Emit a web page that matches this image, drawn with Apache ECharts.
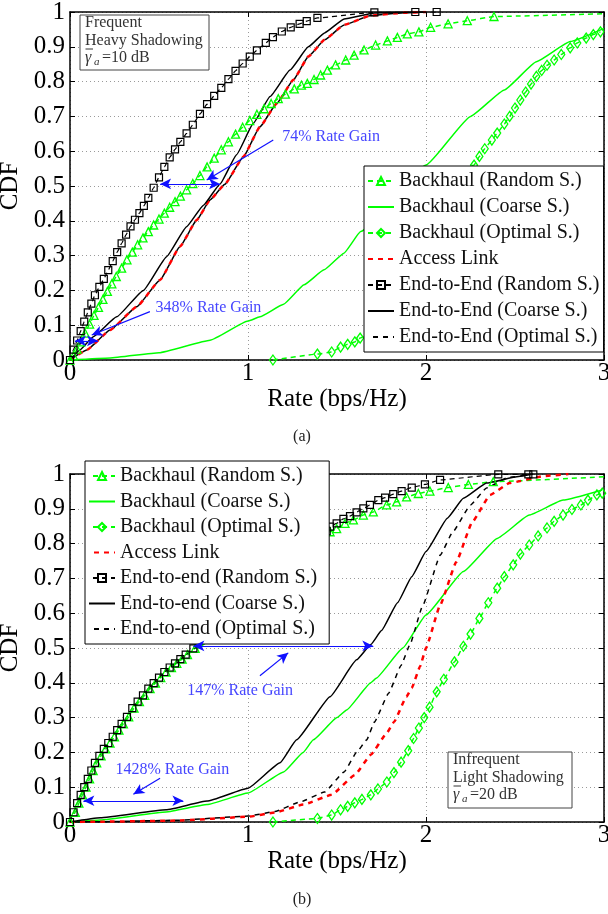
<!DOCTYPE html>
<html>
<head>
<meta charset="utf-8">
<script src="https://cdn.jsdelivr.net/npm/echarts/dist/echarts.min.js"></script>
</head>
<body style="margin:0">
<div id="container" style="width:608px;height:914px"></div>
<script>
// ---- data: [rate (bps/Hz), CDF] ----
// (a) frequent heavy shadowing
var a_bhRandom = [[0,0],[0.02,0.012],[0.04,0.031],[0.06,0.052],[0.085,0.077],[0.11,0.103],[0.135,0.128],[0.16,0.151],[0.185,0.174],[0.21,0.197],[0.235,0.219],[0.26,0.24],[0.29,0.264],[0.32,0.288],[0.35,0.31],[0.38,0.331],[0.41,0.351],[0.44,0.369],[0.47,0.388],[0.5,0.405],[0.53,0.422],[0.56,0.439],[0.59,0.455],[0.62,0.471],[0.655,0.489],[0.69,0.507],[0.73,0.53],[0.77,0.555],[0.81,0.58],[0.85,0.604],[0.89,0.627],[0.93,0.649],[0.97,0.669],[1.01,0.688],[1.05,0.706],[1.09,0.722],[1.13,0.737],[1.17,0.751],[1.21,0.764],[1.26,0.779],[1.30,0.79],[1.333,0.795],[1.371,0.806],[1.408,0.819],[1.446,0.833],[1.492,0.848],[1.549,0.862],[1.596,0.876],[1.652,0.891],[1.717,0.905],[1.783,0.917],[1.839,0.927],[1.895,0.937],[1.96,0.943],[2.026,0.956],[2.124,0.966],[2.232,0.975],[2.382,0.987],[3.0,0.995]];
var a_bhCoarse = [[0,0],[0.225,0.006],[0.5,0.021],[0.787,0.057],[1.0,0.112],[1.067,0.124],[1.2,0.16],[1.315,0.216],[1.427,0.259],[1.539,0.307],[1.633,0.369],[2.0,0.56],[2.25,0.70],[2.44,0.776],[2.62,0.857],[2.81,0.915],[3.0,0.953]];
var a_bhOptimal = [[1.14,0],[1.39,0.017],[1.47,0.023],[1.52,0.037],[1.56,0.045],[1.6,0.052],[1.63,0.063],[2.27,0.56],[2.30,0.585],[2.33,0.607],[2.37,0.632],[2.40,0.652],[2.44,0.678],[2.47,0.7],[2.50,0.724],[2.53,0.747],[2.56,0.77],[2.59,0.793],[2.62,0.815],[2.65,0.832],[2.68,0.847],[2.72,0.862],[2.76,0.878],[2.81,0.897],[2.85,0.911],[2.90,0.925],[2.94,0.935],[2.98,0.943]];
var a_access = [[0,0],[0.094,0.029],[0.225,0.086],[0.375,0.153],[0.506,0.23],[0.618,0.326],[0.712,0.402],[0.787,0.46],[0.87,0.505],[0.974,0.584],[1.067,0.67],[1.161,0.737],[1.255,0.805],[1.339,0.872],[1.43,0.92],[1.54,0.963],[1.69,0.99],[1.88,0.998],[2.0,1.0]];
var a_e2eRandom = [[0,0],[0.02,0.03],[0.04,0.056],[0.06,0.083],[0.08,0.11],[0.10,0.137],[0.12,0.162],[0.14,0.186],[0.165,0.21],[0.19,0.233],[0.215,0.258],[0.24,0.284],[0.265,0.31],[0.29,0.335],[0.315,0.36],[0.34,0.384],[0.365,0.403],[0.39,0.422],[0.415,0.443],[0.44,0.466],[0.47,0.495],[0.50,0.525],[0.53,0.555],[0.56,0.582],[0.59,0.605],[0.62,0.627],[0.655,0.651],[0.69,0.676],[0.73,0.707],[0.77,0.735],[0.81,0.759],[0.85,0.782],[0.89,0.807],[0.93,0.831],[0.97,0.852],[1.01,0.872],[1.05,0.89],[1.10,0.911],[1.14,0.928],[1.19,0.944],[1.24,0.956],[1.29,0.966],[1.33,0.974],[1.39,0.983],[1.71,0.999],[1.94,1.0],[2.06,1.0]];
var a_e2eCoarse = [[0,0],[0.056,0.029],[0.131,0.067],[0.262,0.124],[0.412,0.2],[0.543,0.297],[0.655,0.383],[0.75,0.445],[0.843,0.506],[0.936,0.59],[1.03,0.68],[1.124,0.757],[1.236,0.833],[1.339,0.9],[1.43,0.94],[1.54,0.98],[1.71,0.997],[2.0,1.0]];
var a_e2eOptimal = [[0,0],[0.094,0.029],[0.225,0.086],[0.375,0.153],[0.506,0.23],[0.618,0.326],[0.712,0.402],[0.787,0.46],[0.87,0.505],[0.974,0.584],[1.067,0.67],[1.161,0.737],[1.255,0.805],[1.339,0.872],[1.43,0.92],[1.54,0.963],[1.69,0.99],[1.88,0.998],[2.0,1.0]];

// (b) infrequent light shadowing
var b_bhRandom = [[0,0],[0.03,0.028],[0.05,0.054],[0.07,0.078],[0.09,0.1],[0.11,0.124],[0.13,0.148],[0.15,0.17],[0.175,0.19],[0.2,0.21],[0.225,0.227],[0.25,0.245],[0.275,0.264],[0.3,0.282],[0.33,0.302],[0.36,0.327],[0.39,0.346],[0.42,0.364],[0.45,0.383],[0.48,0.399],[0.51,0.415],[0.54,0.431],[0.57,0.444],[0.6,0.456],[0.63,0.468],[0.66,0.481],[0.703,0.499],[1.461,0.834],[1.498,0.843],[1.545,0.858],[1.592,0.868],[1.648,0.882],[1.704,0.891],[1.779,0.911],[1.835,0.92],[1.891,0.934],[1.957,0.944],[2.022,0.951],[2.125,0.961],[2.238,0.97],[2.378,0.978],[3.0,0.992]];
var b_bhCoarse = [[0,0],[0.17,0.006],[0.54,0.029],[0.77,0.05],[1.0,0.083],[1.2,0.144],[1.31,0.2],[1.367,0.236],[1.5,0.3],[1.554,0.322],[1.69,0.4],[1.72,0.413],[1.87,0.5],[2.0,0.595],[2.21,0.72],[2.4,0.815],[2.58,0.882],[2.77,0.925],[2.99,0.954]];
var b_bhOptimal = [[1.14,0],[1.39,0.01],[1.47,0.02],[1.52,0.035],[1.56,0.045],[1.60,0.055],[1.64,0.065],[1.69,0.078],[1.73,0.095],[1.78,0.115],[1.82,0.142],[1.86,0.172],[1.90,0.205],[1.93,0.24],[1.96,0.27],[1.99,0.3],[2.02,0.33],[2.06,0.374],[2.10,0.41],[2.16,0.46],[2.21,0.505],[2.25,0.54],[2.30,0.585],[2.35,0.63],[2.40,0.672],[2.44,0.705],[2.49,0.739],[2.53,0.77],[2.58,0.796],[2.63,0.822],[2.68,0.845],[2.72,0.864],[2.77,0.882],[2.82,0.898],[2.87,0.911],[2.91,0.925],[2.96,0.94],[2.99,0.945]];
var b_access = [[0,0],[0.19,0.001],[0.6,0.004],[1.0,0.015],[1.15,0.027],[1.31,0.05],[1.47,0.078],[1.6,0.135],[1.69,0.193],[1.779,0.255],[1.82,0.287],[1.89,0.36],[1.92,0.385],[1.966,0.446],[2.0,0.5],[2.08,0.624],[2.17,0.747],[2.26,0.862],[2.36,0.94],[2.47,0.974],[2.66,0.994],[2.8,1.0]];
var b_e2eRandom = [[0,0],[0.02,0.028],[0.04,0.054],[0.06,0.078],[0.08,0.1],[0.1,0.124],[0.12,0.148],[0.14,0.17],[0.165,0.19],[0.19,0.21],[0.215,0.227],[0.24,0.245],[0.265,0.264],[0.29,0.282],[0.32,0.302],[0.35,0.327],[0.38,0.346],[0.41,0.364],[0.44,0.383],[0.47,0.399],[0.5,0.415],[0.53,0.431],[0.56,0.444],[0.59,0.456],[0.62,0.468],[0.65,0.481],[0.693,0.499],[1.442,0.836],[1.461,0.849],[1.498,0.858],[1.536,0.871],[1.573,0.879],[1.61,0.89],[1.648,0.901],[1.685,0.911],[1.732,0.925],[1.77,0.932],[1.816,0.942],[1.863,0.951],[1.92,0.961],[1.994,0.97],[2.079,0.983],[2.406,0.999],[2.575,0.999],[2.603,0.999]];
var b_e2eCoarse = [[0,0],[0.17,0.012],[0.54,0.035],[0.77,0.06],[1.0,0.097],[1.18,0.17],[1.273,0.236],[1.461,0.36],[1.61,0.466],[1.69,0.51],[1.75,0.55],[1.84,0.63],[1.92,0.705],[2.0,0.777],[2.12,0.873],[2.21,0.93],[2.34,0.974],[2.51,0.992],[2.6,1.0]];
var b_e2eOptimal = [[0,0],[0.19,0.001],[0.6,0.005],[1.0,0.017],[1.15,0.03],[1.29,0.057],[1.43,0.086],[1.54,0.144],[1.61,0.2],[1.667,0.236],[1.71,0.287],[1.79,0.37],[1.86,0.45],[1.91,0.51],[1.98,0.62],[2.08,0.767],[2.15,0.833],[2.25,0.911],[2.34,0.96],[2.46,0.99],[2.6,1.0]];

var namesA = ['Backhaul (Random S.)', 'Backhaul (Coarse S.)', 'Backhaul (Optimal S.)', 'Access Link',
  'End-to-End (Random S.)', 'End-to-End (Coarse S.)', 'End-to-End (Optimal S.)'];
var namesB = ['Backhaul (Random S.)', 'Backhaul (Coarse S.)', 'Backhaul (Optimal S.)', 'Access Link',
  'End-to-end (Random S.)', 'End-to-end (Coarse S.)', 'End-to-end (Optimal S.)'];
var xTicks = [0, 1, 2, 3];

var SERIF = 'Liberation Serif, Times New Roman, serif';
var G = '#00ff00', BLUE = '#1010ff', TBLUE = '#4545ff';
var HOLLOW = 'rgba(255,255,255,0)';

var dom = document.getElementById('container');
var myChart = echarts.init(dom, null, {renderer: 'canvas'});

// last point of the random backhaul curve carries no marker
function noLastMark(d) {
    return d.map(function (p, i) {
        return i === d.length - 1 ? {value: p, symbol: 'none'} : p;
    });
}

// line-only series keep an invisible legend symbol
var NOSYM = {color: HOLLOW, borderWidth: 0};
var styles = [
    {symbol: 'triangle', symbolSize: 8, itemStyle: {color: HOLLOW, borderColor: G, borderWidth: 1.3}, lineStyle: {color: G, width: 1.5, type: [5, 4]}},
    {symbol: 'none', itemStyle: NOSYM, lineStyle: {color: G, width: 1.5}},
    {symbol: 'diamond', symbolSize: [7, 10], itemStyle: {color: HOLLOW, borderColor: G, borderWidth: 1.3}, lineStyle: {color: G, width: 1.5, type: [5, 4]}},
    {symbol: 'none', itemStyle: NOSYM, lineStyle: {color: '#ff0000', width: 2.5, type: [5, 5]}},
    {symbol: 'rect', symbolSize: 7, itemStyle: {color: HOLLOW, borderColor: '#000', borderWidth: 1.2}, lineStyle: {color: '#000', width: 1.2, type: [5, 4]}},
    {symbol: 'none', itemStyle: NOSYM, lineStyle: {color: '#000', width: 1.5}},
    {symbol: 'none', itemStyle: NOSYM, lineStyle: {color: '#000', width: 1.5, type: [5, 5], dashOffset: 5}}
];

function buildSeries(g, names, sets) {
    return sets.map(function (d, i) {
        var s = {
            type: 'line', name: names[i], xAxisIndex: g * 2, yAxisIndex: g * 2,
            data: i === 0 ? noLastMark(d) : d,
            smooth: 0.12, smoothMonotone: 'x',
            showAllSymbol: true, silent: true, animation: false, z: 2
        };
        return Object.assign(s, JSON.parse(JSON.stringify(styles[i])));
    });
}

var seriesA = buildSeries(0, namesA, [a_bhRandom, a_bhCoarse, a_bhOptimal, a_access, a_e2eRandom, a_e2eCoarse, a_e2eOptimal]);
var seriesB = buildSeries(1, namesB, [b_bhRandom, b_bhCoarse, b_bhOptimal, b_access, b_e2eRandom, b_e2eCoarse, b_e2eOptimal]);

function gainMarks(arrows, texts) {
    return {
        markLine: {
            silent: true, animation: false, symbolSize: [8, 11],
            lineStyle: {color: BLUE, width: 1.2, type: 'solid'},
            label: {show: false},
            data: arrows
        },
        markPoint: {
            silent: true, animation: false, symbol: 'rect', symbolSize: 1,
            itemStyle: {color: 'rgba(0,0,0,0)'},
            label: {show: true, position: 'right', distance: 0, color: TBLUE, fontSize: 16, fontFamily: SERIF},
            data: texts
        }
    };
}
function dbl(x1, x2, y) {
    return [{coord: [x1, y], symbol: 'arrow'}, {coord: [x2, y], symbol: 'arrow'}];
}
function ptr(x1, y1, x2, y2) {
    return [{coord: [x1, y1], symbol: 'none'}, {coord: [x2, y2], symbol: 'arrow'}];
}
Object.assign(seriesA[0], gainMarks(
    [dbl(0.506, 0.843, 0.506), ptr(1.142, 0.632, 0.768, 0.517), dbl(0.028, 0.157, 0.055), ptr(0.449, 0.139, 0.122, 0.072)],
    [{coord: [1.189, 0.642], label: {formatter: '74% Rate Gain'}}, {coord: [0.478, 0.149], label: {formatter: '348% Rate Gain'}}]
));
Object.assign(seriesB[0], gainMarks(
    [dbl(0.693, 1.704, 0.506), ptr(1.067, 0.42, 1.226, 0.486), dbl(0.075, 0.637, 0.061), ptr(0.506, 0.126, 0.356, 0.08)],
    [{coord: [0.656, 0.377], label: {formatter: '147% Rate Gain'}}, {coord: [0.253, 0.149], label: {formatter: '1428% Rate Gain'}}]
));

var tickStyle = {show: true, inside: true, length: 5, lineStyle: {color: '#000', width: 1}};
var lineStyleAxis = {show: true, onZero: false, lineStyle: {color: '#000', width: 1.5}};
var grid = [
    {left: 70, top: 12, width: 534, height: 348, outerBoundsMode: 'none'},
    {left: 70, top: 474, width: 534, height: 348, outerBoundsMode: 'none'}
];
function xAxes(g, nameGap) {
    return [
        {type: 'value', gridIndex: g, position: 'bottom', min: 0, max: 3, interval: 1,
         name: 'Rate (bps/Hz)', nameLocation: 'middle', nameGap: nameGap,
         nameTextStyle: {fontFamily: SERIF, fontSize: 25, color: '#000'},
         axisLine: lineStyleAxis, axisTick: tickStyle,
         axisLabel: {margin: 1, fontFamily: SERIF, fontSize: 25, color: '#000',
             formatter: function (v) { return xTicks.indexOf(v) >= 0 ? String(v) : ''; }},
         splitLine: {show: true, lineStyle: {color: '#9a9a9a', width: 1, type: [1, 3]}}},
        {type: 'value', gridIndex: g, position: 'top', min: 0, max: 3, interval: 1,
         axisLine: lineStyleAxis, axisTick: tickStyle, axisLabel: {show: false}, splitLine: {show: false}}
    ];
}
function yAxes(g) {
    return [
        {type: 'value', gridIndex: g, position: 'left', min: 0, max: 1, interval: 0.1,
         name: 'CDF', nameLocation: 'middle', nameGap: 39,
         nameTextStyle: {fontFamily: SERIF, fontSize: 25, color: '#000'},
         axisLine: lineStyleAxis, axisTick: tickStyle,
         axisLabel: {margin: 5, fontFamily: SERIF, fontSize: 25, color: '#000',
             formatter: function (v) { return v === 0 ? '0' : (v === 1 ? '1' : v.toFixed(1)); }},
         splitLine: {show: true, lineStyle: {color: '#9a9a9a', width: 1, type: [1, 3]}}},
        {type: 'value', gridIndex: g, position: 'right', min: 0, max: 1, interval: 0.1,
         axisLine: lineStyleAxis, axisTick: tickStyle, axisLabel: {show: false}, splitLine: {show: false}}
    ];
}

var legendText = {fontFamily: SERIF, fontSize: 20, color: '#111', lineHeight: 20};
var legend = [
    {data: namesA, orient: 'vertical', left: 364, top: 166, itemWidth: 26, itemHeight: 10, itemGap: 6,
     padding: [5, 4, 5, 3], backgroundColor: '#fff', borderColor: '#000', borderWidth: 1, borderRadius: 0,
     selectedMode: false, textStyle: legendText},
    {data: namesB, orient: 'vertical', left: 85, top: 461, itemWidth: 26, itemHeight: 10, itemGap: 5.5,
     padding: [5, 12, 5, 3], backgroundColor: '#fff', borderColor: '#000', borderWidth: 1, borderRadius: 0,
     selectedMode: false, textStyle: legendText}
];

function txt(x, y, s, size, extra) {
    return {type: 'text', x: x, y: y, z: 100, silent: true,
        style: Object.assign({text: s, fill: '#333', font: size + 'px ' + SERIF, verticalAlign: 'middle', align: 'left'}, extra || {})};
}
function infoBox(x, y, w, h, l1, l2, val) {
    return [
        {type: 'rect', z: 99, silent: true, shape: {x: x, y: y, width: w, height: h},
         style: {fill: '#fff', stroke: '#444', lineWidth: 1}},
        txt(x + 5, y + 8, l1, 16),
        txt(x + 5, y + 25.5, l2, 16),
        txt(x + 5, y + 43, 'γ', 16, {font: 'italic 16px ' + SERIF}),
        txt(x + 14, y + 47, 'a', 11, {font: 'italic 11px ' + SERIF}),
        txt(x + 22, y + 43, '=' + val + ' dB', 16),
        {type: 'line', z: 100, silent: true, shape: {x1: x + 5.5, y1: y + 34, x2: x + 13, y2: y + 34},
         style: {stroke: '#333', lineWidth: 1}}
    ];
}

var graphic = [].concat(
    infoBox(80, 15, 129, 55, 'Frequent', 'Heavy Shadowing', '10'),
    infoBox(448, 752, 124, 56, 'Infrequent', 'Light Shadowing', '20'),
    [txt(302, 437, '(a)', 16, {align: 'center', fill: '#222'}),
     txt(302, 900, '(b)', 16, {align: 'center', fill: '#222'})]
);

var option = {
    backgroundColor: '#fff',
    animation: false,
    grid: grid,
    xAxis: xAxes(0, 24).concat(xAxes(1, 26)),
    yAxis: yAxes(0).concat(yAxes(1)),
    legend: legend,
    graphic: graphic,
    series: seriesA.concat(seriesB)
};
myChart.setOption(option);
</script>
</body>
</html>
